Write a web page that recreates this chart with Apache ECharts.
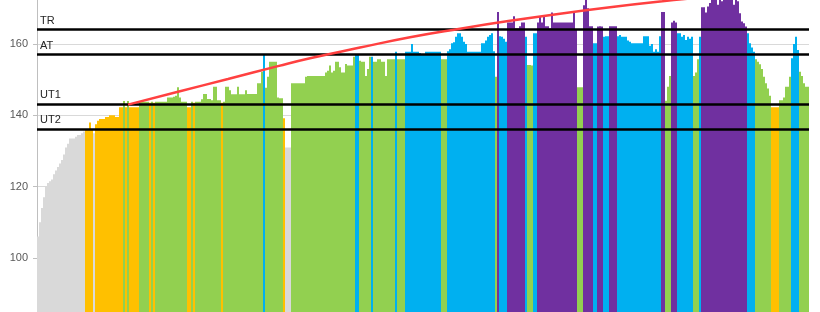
<!DOCTYPE html>
<html><head><meta charset="utf-8">
<script src="https://cdn.jsdelivr.net/npm/echarts@6/dist/echarts.min.js"></script>
<style>html,body{margin:0;padding:0;background:#fff}#c{width:820px;height:312px}</style>
</head><body><div id="c"></div>
<script>
// Heart-rate samples (bpm), one bar per sample
const hrValues = [
106,110,114,117,120,121,121.5,122,123.5,124.5,
125.5,126.5,127.5,129,131,132,133.5,133.5,133.5,134,
134.5,134.5,135,135.5,136,136,138,136,135,137.5,
138.5,139,139,139,139.5,139.5,140,140,140,139.5,
139.5,142.3,142.3,144,142.3,144,142.3,142.3,142.3,142.3,
142.3,143.8,143.8,143.8,143.8,143.8,143.5,143.8,143.5,143.8,
143.8,143.8,143.8,143.8,143.8,145,145,145,145.2,145.5,
147.9,145,143.8,143.8,143.8,142.3,142.3,143.8,143.5,143.8,
143.8,143.8,144.5,146,146,144.6,144.6,144.2,148,148,
144.2,144.2,143.5,143.8,148,148,147,145.9,145.9,145.9,
148,145.9,145.9,145.9,147,146,146,146,146,146,
149,149,152.2,157,147.7,150.8,155,155,155,155,
145,144.8,144.8,139.2,131,131,131,149,149,149,
149,149,149,149,150.8,151,151,151,151,151,
151,151,151,151,152,152.5,154,152,152.5,155,
155,153.5,152,152,154.4,154,154,154,156.4,156.9,
156.9,155.3,155,155,151,153,156.4,156.4,155,155,
155.7,155.7,155,155,151,155.7,155.7,155.7,155.7,157.8,
155.7,155.7,155.7,155.7,157.8,157.8,157.8,160,157.8,157.8,
157.8,157.5,157.2,157.2,157.8,157.8,157.8,157.8,157.8,157.8,
157.8,157.8,155.7,155.7,155.7,158,158.5,160.2,160.5,162,
163,163,162,160.6,160,157.8,157.8,157.8,157.8,157.8,
157.8,157.8,160.2,160.2,161,162,162.5,163,158,150.8,
169,162.2,162,161.5,160.6,166,166,166,167.8,164.4,
164.4,165,166,166,162,154.1,154.1,154,163,163,
166,167.8,166,167.8,165,165,164.4,168.8,166,166,
166,166,166,166,166,166,166,166,169,163.9,
147.9,147.9,147.9,170.9,173,170,165,165,160.2,160.2,
164.9,165,164.9,162,162.2,162.2,165,165,165,165,
162.2,162.5,162,162,162,161,160.6,160.2,160.2,160.2,
160.2,160.2,160.2,162.2,162.2,162.2,159.5,160,157.8,158.5,
157.8,162.2,169,169,144.1,148,151,166,166.5,166,
163,163,162,162.5,161.1,162,161.5,162,151,152,
155.7,162,170.3,170.3,168.8,170.5,171.5,172.5,173,173,
171,173,172,173,173,173,173,173,171,173,
172,168.6,166.3,165.8,164.9,163,160.2,159,157.8,155.7,
155,154.3,153,150.8,149,147.5,145.5,142.3,142.3,142.3,
142.3,144.2,144.2,145,148,148,150.8,156,160,162,
158.3,152.2,151,149,148,148
];
// Zone of each sample: g=below UT2, o=UT2, G=UT1, b=AT, p=TR
const hrZones = (
'gggggggggg gggggggggg ggggoooogo oooooooooo oooGoGoooo ' +
'oGGGGGoGoG GGGGGGGGGG GGGGGooGoG GGGGGGGGGG GGoGGGGGGG ' +
'GGGGGGGGGG GGGbGGGGGG GGGogggGGG GGGGGGGGGG GGGGGGGGGG ' +
'GGGGGGGGGb bGGGGGGbGG GGGGGGGGGb GGGGbbbbbb bbbbbbbbbb ' +
'bbGGGbbbbb bbbbbbbbbb bbbbbbbbbG pbbbbppppp ppppbGGGbb ' +
'pppppppppp pppppppppp GGGpppppbb pppbbbpppp bbbbbbbbbb ' +
'bbbbbbbbbb bbppGGGppp bbbbbbbbGG Gbpppppppp pppppppppp ' +
'pppppbbbbG GGGGGGGooo oGGGGGGbbb bGGGGG'
).replace(/ /g, '').split('');
const zoneColors = { g: '#d9d9d9', o: '#ffc000', G: '#92d050', b: '#00b0f0', p: '#7030a0' };
const thresholdNames = ['TR', 'AT', 'UT1', 'UT2'];
const thresholdValues = [164, 157, 143.2, 136.2];
// Red trend curve: [sample index, bpm]
const trendPoints = [[45,143],[70,146.6],[95,150.2],[120,153.8],[136,156],[161,159],[186,161.9],
  [211,164.3],[236,166.5],[261,168.5],[286,170.3],[311,171.9],[336,173.3],[385,175.8]];

const samples = hrValues.map((_, i) => i + 1);
const chart = echarts.init(document.getElementById('c'), null, { renderer: 'canvas' });
chart.setOption({
  animation: false,
  grid: { left: 37, right: 11, top: -27.33, bottom: -17.33, containLabel: false, outerBoundsMode: 'none' },
  xAxis: {
    type: 'category', data: samples, boundaryGap: true,
    axisLine: { show: false }, axisTick: { show: false }, axisLabel: { show: false }, splitLine: { show: false }
  },
  yAxis: {
    type: 'value', min: 80, max: 180, interval: 20,
    axisLine: { show: true, lineStyle: { color: '#bfbfbf', width: 1 } },
    axisTick: { show: true, length: 4, lineStyle: { color: '#bfbfbf' } },
    axisLabel: { color: '#595959', fontSize: 11, fontFamily: 'Liberation Sans', margin: 9 },
    splitLine: { show: true, lineStyle: { color: '#d9d9d9', width: 1 } }
  },
  series: [
    {
      type: 'bar', barCategoryGap: '0%', barGap: '0%',
      data: hrValues.map((v, i) => ({ value: v, itemStyle: { color: zoneColors[hrZones[i]] } })),
      markLine: {
        silent: true, symbol: ['none', 'none'], animation: false,
        lineStyle: { color: '#000', width: 2.5, type: 'solid' },
        label: { show: true, position: 'insideStartTop', formatter: '{b}', color: '#262626',
                 fontSize: 11, fontFamily: 'Liberation Sans', distance: [3, 3] },
        data: thresholdNames.map((n, i) => ({ name: n, yAxis: thresholdValues[i] }))
      }
    },
    {
      type: 'line', data: trendPoints, smooth: true, symbol: 'none', z: 5,
      lineStyle: { color: '#ff4040', width: 2.5 }
    }
  ]
});
</script></body></html>
